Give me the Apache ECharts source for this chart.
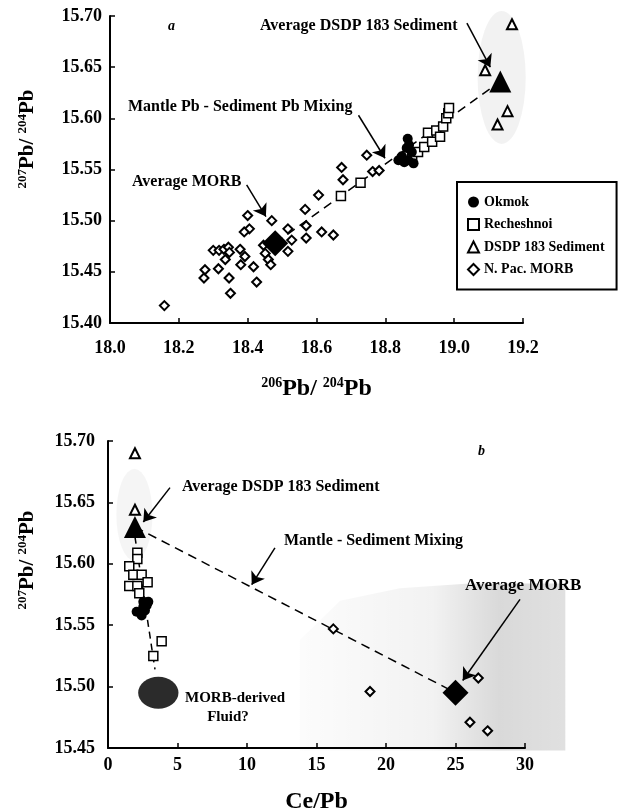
<!DOCTYPE html>
<html><head><meta charset="utf-8">
<script src="https://cdn.jsdelivr.net/npm/echarts@6/dist/echarts.min.js"></script>
<style>html,body{margin:0;padding:0;background:#fff}#c{width:640px;height:812px}</style>
</head><body><div id="c"></div>
<script>
// ---------- Panel a : 207Pb/204Pb vs 206Pb/204Pb ----------
const aXTicks = [18.0, 18.2, 18.4, 18.6, 18.8, 19.0, 19.2];
const aYTicks = [15.40, 15.45, 15.50, 15.55, 15.60, 15.65, 15.70];
const aOkmok = [[18.865,15.580],[18.862,15.571],[18.869,15.574],[18.877,15.567],[18.848,15.563],[18.867,15.559],[18.838,15.559],[18.882,15.556],[18.855,15.557]];
const aRecheshnoi = [[18.671,15.524],[18.728,15.537],[18.878,15.561],[18.895,15.567],[18.913,15.572],[18.924,15.586],[18.936,15.577],[18.948,15.588],[18.959,15.582],[18.968,15.592],[18.977,15.600],[18.983,15.605],[18.985,15.610]];
const aDsdp = [[19.168,15.692],[19.090,15.647],[19.155,15.607],[19.126,15.594]];
const aMorb = [[18.158,15.417],[18.273,15.444],[18.276,15.452],[18.315,15.453],[18.300,15.471],[18.317,15.471],[18.331,15.472],[18.344,15.474],[18.347,15.469],[18.335,15.462],[18.346,15.444],[18.350,15.429],[18.378,15.472],[18.392,15.465],[18.380,15.457],[18.417,15.455],[18.426,15.440],[18.400,15.505],[18.405,15.492],[18.390,15.489],[18.470,15.500],[18.451,15.468],[18.460,15.462],[18.467,15.457],[18.446,15.476],[18.517,15.492],[18.528,15.481],[18.517,15.470],[18.567,15.511],[18.570,15.495],[18.570,15.483],[18.606,15.525],[18.615,15.489],[18.649,15.486],[18.673,15.552],[18.677,15.540],[18.746,15.564],[18.763,15.548],[18.782,15.549]];
const aAvgMorb = [[18.48,15.478]];
const aAvgSed = [[19.134,15.636]];
const aMixLine = [[18.48,15.478],[19.134,15.636]];
const aSedField = [[19.138,15.640,0.14,0.13]]; // centre x, centre y, width, height
const aArrows = [[[19.037,15.693],[19.105,15.650]],[[18.722,15.603],[18.799,15.561]],[[18.397,15.535],[18.453,15.504]]];

// ---------- Panel b : 207Pb/204Pb vs Ce/Pb ----------
const bXTicks = [0, 5, 10, 15, 20, 25, 30];
const bYTicks = [15.45, 15.50, 15.55, 15.60, 15.65, 15.70];
const bOkmok = [[2.54,15.569],[2.90,15.569],[2.78,15.566],[2.54,15.565],[2.66,15.562],[2.06,15.561],[2.42,15.558]];
const bRecheshnoi = [[2.11,15.609],[2.11,15.604],[1.53,15.598],[1.82,15.591],[2.42,15.591],[1.53,15.582],[2.11,15.582],[2.85,15.585],[2.25,15.576],[3.86,15.537],[3.26,15.525]];
const bDsdp = [[1.94,15.690],[1.94,15.644]];
const bMorb = [[16.21,15.547],[18.85,15.496],[26.64,15.507],[26.04,15.471],[27.31,15.464]];
const bAvgMorb = [[25.0,15.495]];
const bAvgSed = [[1.94,15.630]];
const bMixLine = [[1.94,15.630],[25.0,15.495]];
const bFluidLine = [[1.94,15.622],[3.38,15.514]];
const bFluid = [[3.62,15.495,2.9,0.026]];
const bSedField = [[1.9,15.640,2.6,0.075]];
const bMorbField = [[13.8,15.538],[16.7,15.570],[21.0,15.580],[26.0,15.584],[32.9,15.584],[32.9,15.448],[13.8,15.448]];
const bArrows = [[[4.46,15.662],[2.54,15.634]],[[12.01,15.613],[10.34,15.583]],[[29.64,15.571],[25.52,15.505]]];

const FF = 'Liberation Serif';
const chart = echarts.init(document.getElementById('c'), null, {renderer:'canvas'});

function ellipseItem(fill){
  return function(params, api){
    const c = api.coord([api.value(0), api.value(1)]);
    const s = api.size([api.value(2), api.value(3)]);
    const rx = s[0]/2, ry = s[1]/2;
    return {type:'circle', x:c[0], y:c[1], scaleX: rx/ry, scaleY:1, shape:{cx:0, cy:0, r:ry}, style:{fill:fill}};
  };
}
function polyItem(arr, fill){
  return function(params, api){
    if (params.dataIndex !== 0) return null;
    return {type:'polygon', shape:{points: arr.map(p => api.coord(p))}, style:{fill:fill}};
  };
}
function axisX(grid, min, max, interval, margin, dec, name, gap){
  return {gridIndex:grid, type:'value', min:min, max:max, interval:interval,
    axisLine:{show:true, onZero:false, lineStyle:{color:'#000', width:2}},
    axisTick:{show:true, inside:true, length:5, lineStyle:{color:'#000', width:1.5}},
    axisLabel:{color:'#000', fontFamily:FF, fontWeight:'bold', fontSize:18, margin:margin, formatter:v => v.toFixed(dec)},
    splitLine:{show:false},
    name:name, nameLocation:'middle', nameGap:gap,
    nameTextStyle:{color:'#000', fontFamily:FF, fontWeight:'bold', fontSize:23,
      rich:{s:{fontFamily:FF, fontWeight:'bold', fontSize:14, verticalAlign:'top', color:'#000', lineHeight:14},
            p:{fontFamily:FF, fontWeight:'bold', fontSize:24, color:'#000', lineHeight:26}}}
  };
}
function axisY(grid, min, max, interval, margin){
  return {gridIndex:grid, type:'value', min:min, max:max, interval:interval,
    axisLine:{show:true, onZero:false, lineStyle:{color:'#000', width:2}},
    axisTick:{show:true, inside:true, length:5, lineStyle:{color:'#000', width:1.5}},
    axisLabel:{color:'#000', fontFamily:FF, fontWeight:'bold', fontSize:18, margin:margin, formatter:v => v.toFixed(2)},
    splitLine:{show:false}
  };
}
function arrowLines(arr){
  return {silent:true, symbol:['none','arrow'], symbolSize:12, animation:false,
    label:{show:false}, emphasis:{disabled:true}, lineStyle:{color:'#000', width:1.5, type:'solid', opacity:1},
    itemStyle:{color:'#000'},
    data: arr.map(a => [{coord:a[0]},{coord:a[1]}])};
}
const diamondStyle = {color:'#fff', borderColor:'#000', borderWidth:2, opacity:1};
const squareStyle = {color:'#fff', borderColor:'#000', borderWidth:1.5, opacity:1};
const triStyle = {color:'#fff', borderColor:'#000', borderWidth:2, opacity:1};
const solidStyle = {color:'#000', opacity:1};

function pointSeries(g, data, name, symbol, size, style, z){
  return {type:'scatter', name:name, xAxisIndex:g, yAxisIndex:g, data:data, symbol:symbol, symbolSize:size, itemStyle:style, z:z, silent:true};
}

const supRich = (ps, ss) => ({
  s:{fontFamily:FF, fontWeight:'bold', fontSize:ss, verticalAlign:'top', fill:'#000', lineHeight:ss},
  p:{fontFamily:FF, fontWeight:'bold', fontSize:ps, fill:'#000', lineHeight:ps+3}
});
function T(x, y, text, size, align, italic){
  return {type:'text', x:x, y:y, silent:true, style:{text:text, fill:'#000',
    font:(italic ? 'italic ' : '') + 'bold ' + size + 'px ' + FF,
    align:align || 'left', verticalAlign:'middle', textAlign:align || 'left', textVerticalAlign:'middle'}};
}

const option = {
  animation:false,
  backgroundColor:'#fff',
  grid:[{left:110, top:16, width:413, height:307, containLabel:false, outerBoundsMode:'none'},
        {left:108, top:441, width:417, height:307, containLabel:false, outerBoundsMode:'none'}],
  xAxis:[axisX(0, 18.0, 19.2, 0.2, 16, 1, '{s|206}{p|Pb/ }{s|204}{p|Pb}', 53),
         axisX(1, 0, 30, 5, 8, 0, '{p|Ce/Pb}', 41)],
  yAxis:[axisY(0, 15.40, 15.70, 0.05, 8), axisY(1, 15.45, 15.70, 0.05, 13)],
  legend:{left:457, top:182, orient:'vertical', itemGap:8.5, itemWidth:11, itemHeight:11,
    padding:[13, 12, 13, 10], borderColor:'#000', borderWidth:2, backgroundColor:'#fff',
    selectedMode:false,
    textStyle:{fontFamily:FF, fontWeight:'bold', fontSize:14, color:'#000'},
    data:[{name:'Okmok', icon:'circle'},{name:'Recheshnoi', icon:'rect'},{name:'DSDP 183 Sediment', icon:'triangle'},{name:'N. Pac. MORB', icon:'diamond'}]},
  series:[
    // panel a
    {type:'custom', name:'sedField a', xAxisIndex:0, yAxisIndex:0, data:aSedField, encode:{x:0, y:1}, renderItem:ellipseItem('rgba(0,0,0,0.05)'), z:0, silent:true},
    {type:'line', name:'mix a', xAxisIndex:0, yAxisIndex:0, data:aMixLine, symbol:'none', lineStyle:{color:'#000', width:1.5, type:[9,6]}, z:1, silent:true, markLine:arrowLines(aArrows)},
    pointSeries(0, aMorb, 'N. Pac. MORB', 'diamond', 9, diamondStyle, 2),
    pointSeries(0, aRecheshnoi, 'Recheshnoi', 'rect', 9, squareStyle, 3),
    pointSeries(0, aOkmok, 'Okmok', 'circle', 10, solidStyle, 4),
    pointSeries(0, aDsdp, 'DSDP 183 Sediment', 'triangle', 10, triStyle, 3),
    pointSeries(0, aAvgMorb, 'Average MORB a', 'diamond', 26, solidStyle, 5),
    pointSeries(0, aAvgSed, 'Average Sediment a', 'triangle', 22, solidStyle, 5),
    // panel b
    {type:'custom', name:'morbField b', xAxisIndex:1, yAxisIndex:1, data:bMorbField, encode:{x:0, y:1},
      renderItem:polyItem(bMorbField, new echarts.graphic.LinearGradient(0,0,1,0,[{offset:0,color:'rgba(0,0,0,0.01)'},{offset:0.5,color:'rgba(0,0,0,0.05)'},{offset:0.75,color:'rgba(0,0,0,0.15)'},{offset:1,color:'rgba(0,0,0,0.12)'}])), z:0, silent:true},
    {type:'custom', name:'sedField b', xAxisIndex:1, yAxisIndex:1, data:bSedField, encode:{x:0, y:1}, renderItem:ellipseItem('rgba(0,0,0,0.04)'), z:0, silent:true},
    {type:'custom', name:'fluid b', xAxisIndex:1, yAxisIndex:1, data:bFluid, encode:{x:0, y:1}, renderItem:ellipseItem('#2b2b2b'), z:2, silent:true},
    {type:'line', name:'mix b', xAxisIndex:1, yAxisIndex:1, data:bMixLine, symbol:'none', lineStyle:{color:'#000', width:1.5, type:[9,6]}, z:1, silent:true, markLine:arrowLines(bArrows)},
    {type:'line', name:'fluid line b', xAxisIndex:1, yAxisIndex:1, data:bFluidLine, symbol:'none', lineStyle:{color:'#000', width:1.5, type:[7,5]}, z:1, silent:true},
    pointSeries(1, bMorb, 'N. Pac. MORB', 'diamond', 9, diamondStyle, 2),
    pointSeries(1, bRecheshnoi, 'Recheshnoi', 'rect', 9, squareStyle, 3),
    pointSeries(1, bOkmok, 'Okmok', 'circle', 10, solidStyle, 4),
    pointSeries(1, bDsdp, 'DSDP 183 Sediment', 'triangle', 10, triStyle, 3),
    pointSeries(1, bAvgMorb, 'Average MORB b', 'diamond', 26, solidStyle, 5),
    pointSeries(1, bAvgSed, 'Average Sediment b', 'triangle', 22, solidStyle, 5)
  ],
  graphic:[
    {type:'text', x:28, y:139, rotation:Math.PI/2, silent:true,
      style:{text:'{s|207}{p|Pb/ }{s|204}{p|Pb}', rich:supRich(21, 13), align:'center', verticalAlign:'middle', textAlign:'center', textVerticalAlign:'middle', fill:'#000', font:'bold 21px ' + FF}},
    {type:'text', x:28, y:560, rotation:Math.PI/2, silent:true,
      style:{text:'{s|207}{p|Pb/ }{s|204}{p|Pb}', rich:supRich(21, 13), align:'center', verticalAlign:'middle', textAlign:'center', textVerticalAlign:'middle', fill:'#000', font:'bold 21px ' + FF}},
    T(168, 26, 'a', 14, 'left', true),
    T(260, 26, 'Average DSDP 183 Sediment', 16),
    T(128, 107, 'Mantle Pb - Sediment Pb Mixing', 16),
    T(132, 182, 'Average MORB', 16),
    T(478, 451, 'b', 14, 'left', true),
    T(182, 487, 'Average DSDP 183 Sediment', 16),
    T(284, 541, 'Mantle - Sediment Mixing', 16),
    T(465, 586, 'Average MORB', 17),
    T(185, 698, 'MORB-derived', 15),
    T(228, 717, 'Fluid?', 15, 'center')
  ]
};
chart.setOption(option);
</script></body></html>
